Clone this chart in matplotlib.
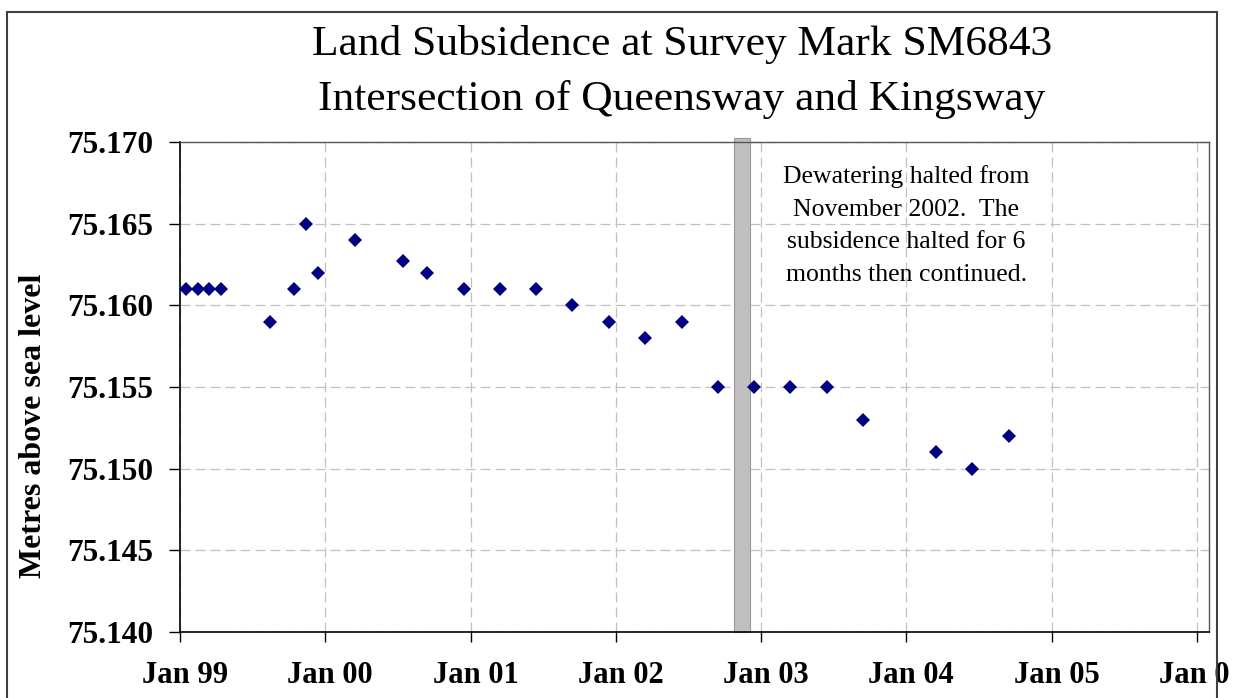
import matplotlib
matplotlib.use('Agg')
import matplotlib.pyplot as plt
import numpy as np
from matplotlib.patches import Rectangle
from matplotlib.transforms import ScaledTranslation

plt.rcParams['font.family'] = ['Liberation Serif', 'DejaVu Serif']

# survey dates and levels (metres above sea level)
survey_dates = ['1999-01-15', '1999-02-15', '1999-03-15', '1999-04-15',
                '1999-08-15', '1999-10-15', '1999-11-15', '1999-12-15',
                '2000-03-15', '2000-07-15', '2000-09-12', '2000-12-15',
                '2001-03-15', '2001-06-15', '2001-09-12', '2001-12-15',
                '2002-03-15', '2002-06-15', '2002-09-15', '2002-12-15',
                '2003-03-15', '2003-06-15', '2003-09-15',
                '2004-03-15', '2004-06-15', '2004-09-15']
levels = [75.161, 75.161, 75.161, 75.161,
          75.159, 75.161, 75.165, 75.162,
          75.164, 75.1627, 75.162, 75.161,
          75.161, 75.161, 75.160, 75.159,
          75.158, 75.159, 75.155, 75.155,
          75.155, 75.155, 75.153,
          75.151, 75.150, 75.152]

halt_start = '2002-10-26'
halt_end = '2002-12-03'

y_ticks = [75.140, 75.145, 75.150, 75.155, 75.160, 75.165, 75.170]
y_tick_labels = ['75.140', '75.145', '75.150', '75.155', '75.160', '75.165', '75.170']
x_ticks = ['1999-01-01', '2000-01-01', '2001-01-01', '2002-01-01',
           '2003-01-01', '2004-01-01', '2005-01-01', '2006-01-01']
x_tick_labels = ['Jan 99', 'Jan 00', 'Jan 01', 'Jan 02',
                 'Jan 03', 'Jan 04', 'Jan 05', 'Jan 06']

note = ('Dewatering halted from\nNovember 2002.  The\n'
        'subsidence halted for 6\nmonths then continued.')

W, H = 1244, 698
fig = plt.figure(figsize=(W / 100, H / 100), dpi=100)
ax = fig.add_axes([180 / W, 1 - 632 / H, (1209 - 180) / W, (632 - 142) / H])

dates = np.array(survey_dates, dtype='datetime64[D]')
xt = np.array(x_ticks, dtype='datetime64[D]')

# grey bar marking the dewatering halt
ax.axvspan(np.datetime64(halt_start), np.datetime64(halt_end), ymin=0, ymax=1.008,
           facecolor='#C0C0C0', edgecolor='#999999', lw=0.8, clip_on=False, zorder=2)

ax.plot(dates, levels, linestyle='none', marker='D', ms=6.8, mew=0,
        color='#000080', zorder=3, clip_on=False)

ax.set_xlim(np.datetime64('1999-01-01'), np.datetime64('2006-01-31'))
ax.set_ylim(75.140, 75.170)
ax.set_xticks(xt, labels=x_tick_labels, fontsize=22, fontweight='bold')
ax.set_yticks(y_ticks, labels=y_tick_labels, fontsize=22.5, fontweight='bold')
ax.tick_params(axis='y', direction='out', length=8, width=1, pad=11)
ax.tick_params(axis='x', direction='out', length=7, width=1, pad=14)

# Excel draws the date labels a little right of the ticks
shift = ScaledTranslation(5 / 100, 0, fig.dpi_scale_trans)
for lbl in ax.get_xticklabels():
    lbl.set_transform(lbl.get_transform() + shift)

ax.grid(True, color='#C0C0C0', lw=0.9, linestyle=(0, (8, 4)), zorder=1)
ax.set_axisbelow(True)

for s in ['left', 'bottom']:
    ax.spines[s].set_color('black')
    ax.spines[s].set_linewidth(1.2)
for s in ['top', 'right']:
    ax.spines[s].set_color('#555555')
    ax.spines[s].set_linewidth(1.0)

ax.set_ylabel('Metres above sea level', fontsize=23, fontweight='bold')
ax.yaxis.set_label_coords(-0.128, 0.42)

ax.text(np.datetime64('2004-01-01'), 75.1649, note, ha='center', va='center',
        fontsize=18.5, linespacing=1.62)

fig.text(682 / W, 1 - 55 / H, 'Land Subsidence at Survey Mark SM6843',
         ha='center', va='baseline', fontsize=31.3)
fig.text(682 / W, 1 - 110 / H, 'Intersection of Queensway and Kingsway',
         ha='center', va='baseline', fontsize=31.3)

# chart area border, the right part of the picture is cut off
fig.patches.append(Rectangle((1229 / W, 0), 1, 1, transform=fig.transFigure,
                             facecolor='white', edgecolor='none', zorder=10))
fig.patches.append(Rectangle((7 / W, -0.1), (1217 - 7) / W, 1.1 - 12 / H,
                             transform=fig.transFigure, fill=False,
                             edgecolor='#404040', lw=1.5, zorder=11))

fig.savefig('out.png', dpi=100)
